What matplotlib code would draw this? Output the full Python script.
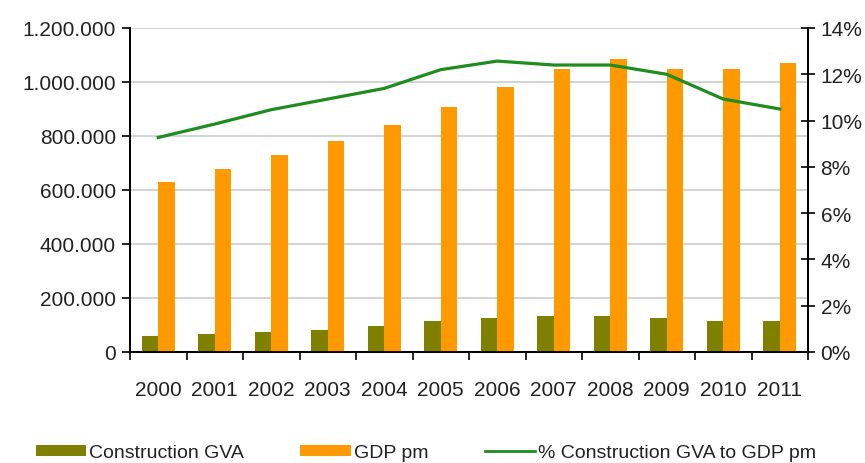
import matplotlib.pyplot as plt
import matplotlib.ticker as ticker
from matplotlib.patches import Patch
from matplotlib.lines import Line2D
import numpy as np

plt.rcParams['font.family'] = ['Liberation Sans', 'DejaVu Sans']

years = ['2000', '2001', '2002', '2003', '2004', '2005',
         '2006', '2007', '2008', '2009', '2010', '2011']
construction_gva = [60000, 67500, 75000, 82500, 97500, 114000,
                    127500, 135000, 135000, 127500, 114000, 114000]
gdp_pm = [630000, 678000, 730000, 781000, 841000, 907000,
          981000, 1048000, 1085000, 1048000, 1048000, 1070000]
pct_gva_gdp = [9.27, 9.85, 10.47, 10.93, 11.39, 12.2,
               12.57, 12.4, 12.4, 12.0, 10.93, 10.5]

olive = '#808000'
orange = '#FF9900'
green = '#1E8C1E'

fig = plt.figure(figsize=(8.65, 4.64), dpi=100)
ax = fig.add_axes([130 / 865, 1 - 353 / 464, 678 / 865, 324 / 464])
ax2 = ax.twinx()

x = np.arange(len(years))
w = 0.29
ax.bar(x - w / 2, construction_gva, width=w, color=olive, zorder=3)
ax.bar(x + w / 2, gdp_pm, width=w, color=orange, zorder=3)
ax2.plot(x, pct_gva_gdp, color=green, linewidth=2.3, zorder=4)

ax.set_xlim(-0.5, len(years) - 0.5)
ax.set_ylim(0, 1200000)
ax.set_yticks(range(0, 1200001, 200000))
ax.yaxis.set_major_formatter(ticker.FuncFormatter(lambda v, p: f"{int(v):,}".replace(',', '.')))
ax.grid(axis='y', color='#cccccc', linewidth=1.2, zorder=0)
ax.set_axisbelow(True)

ax2.set_ylim(0, 14)
ax2.set_yticks(range(0, 15, 2))
ax2.yaxis.set_major_formatter(ticker.FuncFormatter(lambda v, p: f"{int(v)}%"))

ax.set_xticks(x)
ax.set_xticklabels(years)
ax.set_xticks(np.arange(-0.5, len(years), 1), minor=True)
ax.tick_params(axis='x', which='major', length=0, pad=20, labelsize=15, labelcolor='#222222')
ax.tick_params(axis='x', which='minor', length=6, width=1.2, direction='out')
ax.tick_params(axis='y', length=6, width=1.2, direction='out', labelsize=15, pad=4, labelcolor='#222222')
ax2.tick_params(axis='y', length=10, width=1.2, direction='inout', labelsize=15, pad=4, labelcolor='#222222')

for a in (ax, ax2):
    a.spines['top'].set_visible(False)
    for s in ('left', 'right', 'bottom'):
        a.spines[s].set_linewidth(1.3)
        a.spines[s].set_color('black')

handles = [
    Patch(facecolor=olive, edgecolor='none'),
    Patch(facecolor=orange, edgecolor='none'),
    Line2D([0], [0], color=green, linewidth=2),
]
labels = ['Construction GVA', 'GDP pm', '% Construction GVA to GDP pm']
leg = fig.legend(handles, labels, loc='center', bbox_to_anchor=(0.4925, 0.022), ncol=3,
                 frameon=False, fontsize=14, handlelength=2.6, handleheight=0.55,
                 handletextpad=0.15, columnspacing=2.9)
for t in leg.get_texts():
    t.set_color('#222222')

fig.savefig('out.png', dpi=100)
